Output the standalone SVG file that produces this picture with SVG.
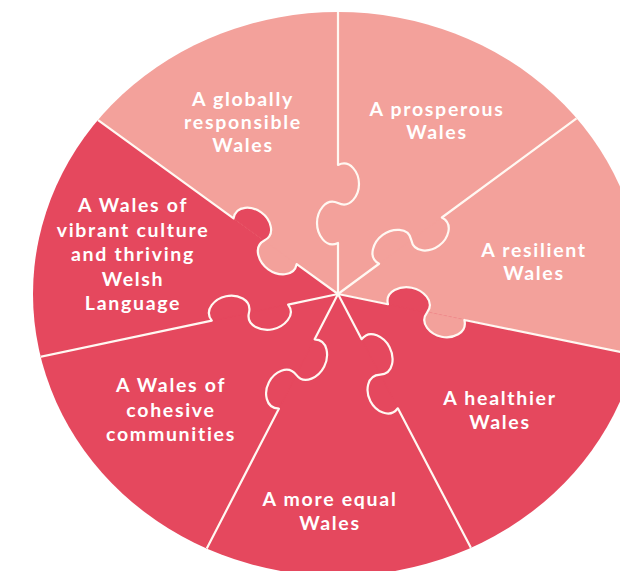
<svg xmlns="http://www.w3.org/2000/svg" width="620" height="571" viewBox="0 0 620 571">
  <defs>
    <style>
      .light { fill: #F3A19B; stroke: #F3A19B; stroke-width: 1; }
      .dark { fill: #E5485E; stroke: #E5485E; stroke-width: 1; }
      .lbl { fill: #FFFFFF; font-family: "Lato", "Open Sans", sans-serif; font-weight: 700; font-size: 19.5px; letter-spacing: 1.7px; text-anchor: middle; }
      .div { fill: none; stroke: #FFF8F2; stroke-width: 2.2; stroke-linejoin: round; }
    </style>
    <clipPath id="disc">
      <ellipse cx="338" cy="294" rx="305" ry="282"/>
    </clipPath>
    <path id="tab" d="M400,0 L129,0 C135,12.6 121,21 110,21 C99,21 85,12.6 91,0 C97,-12.6 82,-21 71,-21 C60,-21 45,-12.6 51,0 L0,0"/>
    <path id="lobe1" d="M129,0 C135,12.6 121,21 110,21 C99,21 85,12.6 91,0 Z"/>
    <path id="lobe2" d="M91,0 C97,-12.6 82,-21 71,-21 C60,-21 45,-12.6 51,0 Z"/>
  </defs>
  <rect width="620" height="571" fill="#FFFFFF"/>
  <g clip-path="url(#disc)">
    <g id="pieces">
      <g id="prosperous"><path class="light" d="M338,294 L338,-126 L676.2,44.9 Z"/></g>
      <g id="resilient"><path class="light" d="M338,294 L676.2,44.9 L749.4,378.6 Z"/></g>
      <g id="healthier"><path class="dark" d="M338,294 L749.4,378.6 L532.9,666.1 Z"/></g>
      <g id="equal"><path class="dark" d="M338,294 L532.9,666.1 L145.5,667.3 Z"/></g>
      <g id="cohesive"><path class="dark" d="M338,294 L145.5,667.3 L-72.9,380.9 Z"/></g>
      <g id="culture"><path class="dark" d="M338,294 L-72.9,380.9 L-2.1,47.5 Z"/></g>
      <g id="globally"><path class="light" d="M338,294 L-2.1,47.5 L338,-126 Z"/></g>
    </g>
    <g id="tabs">
      <g transform="translate(338 294) rotate(-90)"><use href="#lobe1" class="light"/><use href="#lobe2" class="light"/></g>
      <g transform="translate(338 294) rotate(-36.37)"><use href="#lobe1" class="light"/><use href="#lobe2" class="light"/></g>
      <g transform="translate(338 294) rotate(11.62)"><use href="#lobe1" class="light"/><use href="#lobe2" class="dark"/></g>
      <g transform="translate(338 294) rotate(62.36)"><use href="#lobe1" class="dark"/><use href="#lobe2" class="dark"/></g>
      <g transform="translate(338 294) rotate(117.28)"><use href="#lobe1" class="dark"/><use href="#lobe2" class="dark"/></g>
      <g transform="translate(338 294) rotate(168.06)"><use href="#lobe1" class="dark"/><use href="#lobe2" class="dark"/></g>
      <g transform="translate(338 294) rotate(215.94)"><use href="#lobe1" class="dark"/><use href="#lobe2" class="light"/></g>
    </g>
    <g id="connectors">
      <use href="#tab" class="div" transform="translate(338 294) rotate(-90)"/>
      <use href="#tab" class="div" transform="translate(338 294) rotate(-36.37)"/>
      <use href="#tab" class="div" transform="translate(338 294) rotate(11.62)"/>
      <use href="#tab" class="div" transform="translate(338 294) rotate(62.36)"/>
      <use href="#tab" class="div" transform="translate(338 294) rotate(117.28)"/>
      <use href="#tab" class="div" transform="translate(338 294) rotate(168.06)"/>
      <use href="#tab" class="div" transform="translate(338 294) rotate(215.94)"/>
    </g>
  </g>
  <g id="labels">
    <text class="lbl" id="t-globally"><tspan x="243" y="106">A globally</tspan><tspan x="243" y="129">responsible</tspan><tspan x="243" y="152">Wales</tspan></text>
    <text class="lbl" id="t-prosperous"><tspan x="437" y="116">A prosperous</tspan><tspan x="437" y="139">Wales</tspan></text>
    <text class="lbl" id="t-resilient"><tspan x="534" y="257">A resilient</tspan><tspan x="534" y="280">Wales</tspan></text>
    <text class="lbl" id="t-healthier"><tspan x="500" y="405">A healthier</tspan><tspan x="500" y="429">Wales</tspan></text>
    <text class="lbl" id="t-equal"><tspan x="330" y="506">A more equal</tspan><tspan x="330" y="530">Wales</tspan></text>
    <text class="lbl" id="t-cohesive"><tspan x="171" y="392">A Wales of</tspan><tspan x="171" y="417">cohesive</tspan><tspan x="171" y="441">communities</tspan></text>
    <text class="lbl" id="t-culture"><tspan x="133" y="212">A Wales of</tspan><tspan x="133" y="236.5">vibrant culture</tspan><tspan x="133" y="261">and thriving</tspan><tspan x="133" y="285.5">Welsh</tspan><tspan x="133" y="310">Language</tspan></text>
  </g>
</svg>
